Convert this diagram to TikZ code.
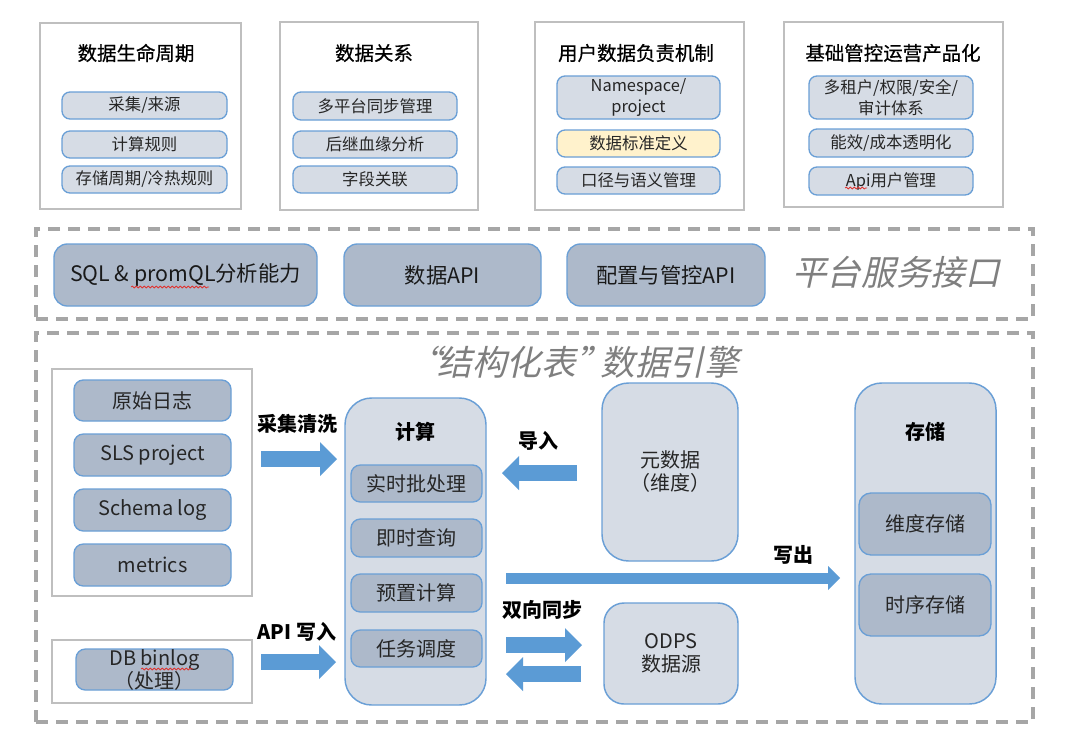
\documentclass[tikz,border=0pt]{standalone}
\usepackage{fontspec}
\setmainfont{Noto Sans CJK SC}
\newfontfamily\slantfont{Noto Sans CJK SC}[FakeSlant=0.22]
\newfontfamily\medfont{Noto Sans CJK SC}[FakeBold=0.7]
\usetikzlibrary{arrows.meta,decorations.pathmorphing}
\definecolor{lightbox}{HTML}{D6DCE5}
\definecolor{darkbox}{HTML}{ADB9CA}
\definecolor{boxline}{HTML}{6A9FD6}
\definecolor{framegray}{HTML}{BFBFBF}
\definecolor{dashgray}{HTML}{A6A6A6}
\definecolor{arrowblue}{HTML}{5B9BD5}
\definecolor{stdyellow}{HTML}{FFF2CC}
\definecolor{headgray}{HTML}{7F7F7F}
\definecolor{spellred}{HTML}{E0322E}
\begin{document}
\begin{tikzpicture}
[x=0.75pt,y=-0.75pt,
every node/.style={inner sep=0pt,outer sep=0pt},
sz/.style 2 args={minimum width=#1*0.75pt,minimum height=#2*0.75pt},
frame/.style={draw=framegray,line width=1.1pt,fill=white},
dashbox/.style={draw=dashgray,line width=2.5pt,dash pattern=on 9pt off 6pt},
title/.style={font=\medfont\fontsize{14.6}{17}\selectfont},
item/.style={draw=boxline,line width=1pt,fill=lightbox,rounded corners=6pt,align=center,text=black!85,font=\fontsize{12.3}{15.75}\selectfont},
button/.style={draw=boxline,line width=1pt,fill=darkbox,rounded corners=10pt,text=black!90,font=\fontsize{16}{19}\selectfont},
column/.style={draw=boxline,line width=1.1pt,fill=lightbox,rounded corners=20pt,align=center,text=black!85,font=\fontsize{15}{17.25}\selectfont},
cell/.style={draw=boxline,line width=1pt,fill=darkbox,rounded corners=7pt,align=center,text=black!85,font=\fontsize{15}{17.25}\selectfont},
heading/.style={text=headgray,font=\slantfont\fontsize{26}{30}\selectfont},
lab/.style={font=\bfseries\fontsize{15}{17}\selectfont},
bigarrow/.style={arrowblue,line width=12pt,-{Triangle[length=12.75pt,width=25.5pt,line width=0pt]}},
thinarrow/.style={arrowblue,line width=8.25pt,-{Triangle[length=9pt,width=18pt,line width=0pt]}},
spell/.style={spellred,line width=0.6pt,decorate,decoration={snake,amplitude=0.7pt,segment length=3pt}}]
\fill[white] (0,0) rectangle (1080,729);
\useasboundingbox (0,0) rectangle (1080,729);
%%%%%%%%%%
%%%%% top: four topic frames
\node (f1) [frame,sz={201}{186}] at (140.5,116) {};
\node (f2) [frame,sz={198}{188}] at (379,116) {};
\node (f3) [frame,sz={209}{188}] at (639.5,116) {};
\node (f4) [frame,sz={219}{185}] at (893.5,114.5) {};
%% titles
\node (t1) [title] at (136,53) {数据生命周期};
\node (t2) [title] at (374,53) {数据关系};
\node (t3) [title] at (636,53) {用户数据负责机制};
\node (t4) [title] at (893,53) {基础管控运营产品化};
%% items
\node (l1) [item,sz={165}{27}] at (144.5,105.5) {采集/来源};
\node (l2) [item,sz={165}{27}] at (144.5,144.5) {计算规则};
\node (l3) [item,sz={165}{27}] at (144.5,179.5) {存储周期/冷热规则};
\node (r1) [item,sz={164}{28}] at (375,106) {多平台同步管理};
\node (r2) [item,sz={164}{27}] at (375,144.5) {后继血缘分析};
\node (r3) [item,sz={164}{27}] at (375,179.5) {字段关联};
\node (u1) [item,sz={163}{43}] at (638.5,97.5) {Namespace/\\project};
\node (u2) [item,sz={163}{27},fill=stdyellow] at (638.5,143.5) {数据标准定义};
\node (u3) [item,sz={163}{27}] at (638.5,180.5) {口径与语义管理};
\node (o1) [item,sz={164}{43}] at (891,97.5) {多租户/权限/安全/\\审计体系};
\node (o2) [item,sz={164}{28}] at (891,143) {能效/成本透明化};
\node (o3) [item,sz={164}{28}] at (891,181) {Api用户管理};
\draw[spell] (845,188) -- (867,188);
%%%%%%%%%%
%%%%% platform service interface
\node (api) [dashbox,sz={997}{90}] at (534.5,274) {};
\node (b1) [button,sz={263}{62}] at (185.5,275) {SQL \& promQL分析能力};
\node (b2) [button,sz={197}{62}] at (442.5,275) {数据API};
\node (b3) [button,sz={198}{62}] at (666,275) {配置与管控API};
\node (h1) [heading] at (896,272) {平台服务接口};
\draw[spell] (131,287) -- (209,287);
%%%%%%%%%%
%%%%% data engine
\node (eng) [dashbox,sz={997}{389}] at (534.5,527.5) {};
\node (h2) [heading] at (573,362) {“\kern-0.12em结构化表”\kern-0.3em数据引擎};
%% sources
\node (src) [frame,sz={200}{227}] at (152,482.5) {};
\node (s1) [cell,sz={157}{41}] at (152.5,400.5) {原始日志};
\node (s2) [cell,sz={157}{42}] at (152.5,455) {SLS project};
\node (s3) [cell,sz={157}{42}] at (152.5,510) {Schema log};
\node (s4) [cell,sz={157}{42}] at (152.5,565) {metrics};
\node (db) [frame,sz={200}{63}] at (152,671.5) {};
\node (db1) [cell,sz={157}{41}] at (154.5,669.5) {DB binlog\\（处理）};
\draw[spell] (141,669) -- (193,669);
%% compute
\node (calc) [column,sz={141}{307}] at (415.5,551.5) {};
\node [lab] at (415.5,432) {计算};
\node (c1) [cell,sz={131}{37}] at (416.5,483.5) {实时批处理};
\node (c2) [cell,sz={131}{38}] at (416.5,538) {即时查询};
\node (c3) [cell,sz={131}{38}] at (416.5,593) {预置计算};
\node (c4) [cell,sz={131}{37}] at (416.5,648.5) {任务调度};
%% meta data, odps
\node (meta) [column,sz={136}{178}] at (670,472) {元数据\\（维度）};
\node (odps) [column,sz={134}{101},rounded corners=15pt] at (671,653.5) {ODPS\\数据源};
%% storage
\node (store) [column,sz={141}{321}] at (925.5,543.5) {};
\node [lab] at (925.5,432) {存储};
\node (d1) [cell,sz={132}{62},rounded corners=9pt] at (925,524) {维度存储};
\node (d2) [cell,sz={132}{62},rounded corners=9pt] at (925,605) {时序存储};
%% arrows
\coordinate (a1s) at (261,459); \coordinate (a1e) at (337,459);
\coordinate (a2s) at (261,662); \coordinate (a2e) at (336,662);
\coordinate (a3s) at (577,473); \coordinate (a3e) at (502,473);
\coordinate (a4s) at (506,578); \coordinate (a4e) at (840,578);
\coordinate (a5s) at (506,645); \coordinate (a5e) at (582,645);
\coordinate (a6s) at (581,674); \coordinate (a6e) at (506,674);
\draw[bigarrow] (a1s) -- (a1e);
\draw[bigarrow] (a2s) -- (a2e);
\draw[bigarrow] (a3s) -- (a3e);
\draw[thinarrow] (a4s) -- (a4e);
\draw[bigarrow] (a5s) -- (a5e);
\draw[bigarrow] (a6s) -- (a6e);
%% labels
\node [lab] at (297,424) {采集清洗};
\node [lab] at (297,632) {API 写入};
\node [lab] at (538,441) {导入};
\node [lab] at (793,555) {写出};
\node [lab] at (542,610) {双向同步};
\end{tikzpicture}
\end{document}
